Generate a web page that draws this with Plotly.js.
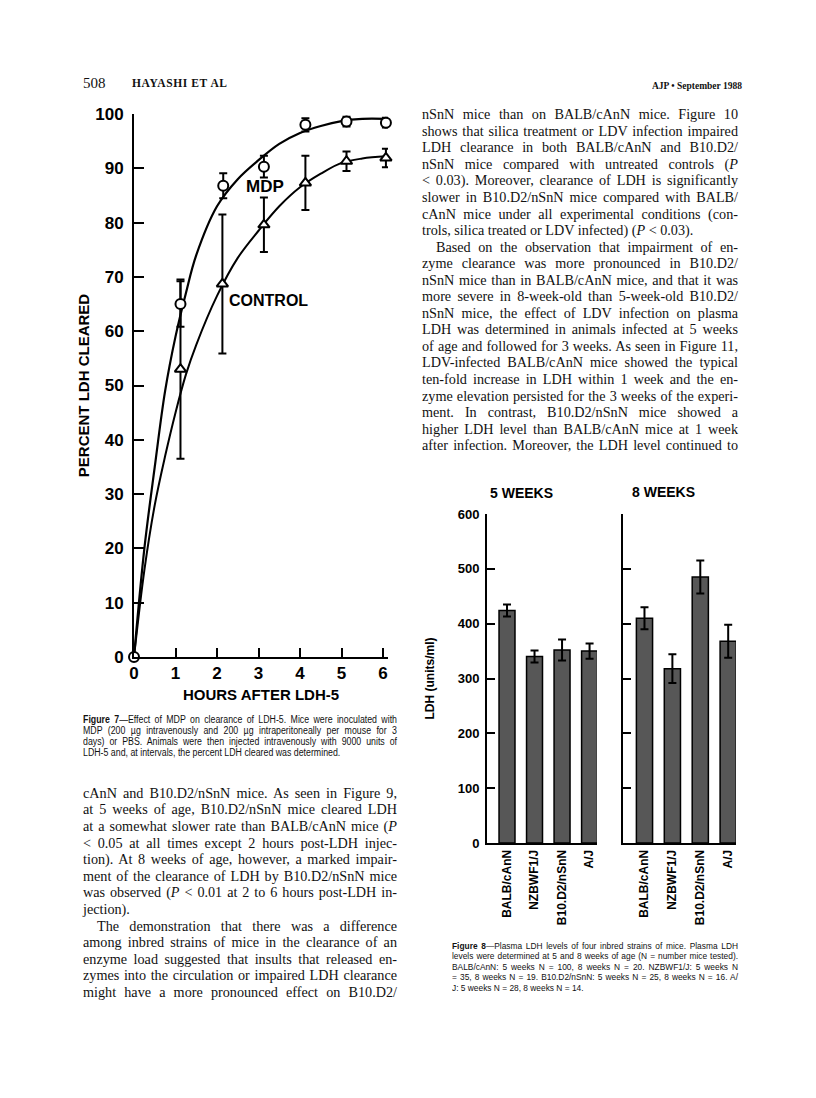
<!DOCTYPE html>
<html>
<head>
<meta charset="utf-8">
<script src="https://cdn.plot.ly/plotly-3.0.1.min.js"></script>
<style>
body{margin:0;background:#fff}
#page{position:relative;width:816px;height:1098px;overflow:hidden;background:#fff}
#chart{position:absolute;left:0;top:0;width:816px;height:1098px}
.ln{position:absolute;white-space:nowrap;color:#111;transform-origin:0 50%}
.ln span{display:inline-block}
</style>
</head>
<body>
<div id="page"><div id="chart"></div></div>
<script>
// Figure 7 - percent LDH cleared (mean, error)
var hoursMdp = [0, 1.12, 2.15, 3.13, 4.13, 5.12, 6.07];
var mdpMean  = [0, 65, 86.8, 90.3, 98, 98.6, 98.4];
var mdpErr   = [0, 4.2, 2.3, 2, 1.2, 0.9, 0.9];
var hoursCtrl = [1.12, 2.13, 3.13, 4.13, 5.12, 6.07];
var ctrlMean  = [53, 68.7, 79.6, 87.3, 91.3, 91.9];
var ctrlErr   = [16.5, 12.8, 5, 5, 1.8, 1.7];
// hand drawn fit curves
var fitHours = [0, 0.25, 0.5, 0.75, 1, 1.25, 1.5, 2, 2.5, 3, 3.5, 4, 4.5, 5, 5.5, 6.07];
var mdpFit   = [0, 20, 35, 49, 59, 67, 74, 83, 88, 91.5, 94.5, 96.5, 97.8, 98.7, 99.1, 99.1];
var ctrlFit  = [0, 16, 28, 37, 45, 52, 57.5, 66.5, 73.5, 78.5, 83, 86.5, 89, 91, 91.8, 92.2];
var hourTicks = [0, 1, 2, 3, 4, 5, 6];
var pctTicks = [0, 10, 20, 30, 40, 50, 60, 70, 80, 90, 100];

// Figure 8 - plasma LDH (units/ml)
var strains = ['BALB/cAnN', 'NZBWF1/J', 'B10.D2/nSnN', 'A/J'];
var ldh5wk = [424, 340, 352, 350];
var err5wk = [11, 11, 19, 14];
var ldh8wk = [410, 318, 485, 368];
var err8wk = [20, 26, 30, 30];
var ldhTicks = [0, 100, 200, 300, 400, 500, 600];

var W = 816, H = 1098;
function px(x){ return x / W; }
function py(y){ return 1 - y / H; }

var sans = 'Liberation Sans, Arial, sans-serif';
var bold = function(s){ return {family: sans, size: s, color: '#000', weight: 700}; };

var traces = [
  {x: fitHours, y: mdpFit, type: 'scatter', mode: 'lines', line: {color: '#000', width: 2.2, shape: 'spline'}, xaxis: 'x', yaxis: 'y', hoverinfo: 'none', cliponaxis: false},
  {x: fitHours, y: ctrlFit, type: 'scatter', mode: 'lines', line: {color: '#000', width: 2, shape: 'spline'}, xaxis: 'x', yaxis: 'y', hoverinfo: 'none', cliponaxis: false},
  {x: hoursCtrl, y: ctrlMean, type: 'scatter', mode: 'markers', name: 'CONTROL',
   marker: {symbol: 'triangle-up', size: 10, color: '#fff', line: {color: '#000', width: 2}},
   error_y: {type: 'data', array: ctrlErr, color: '#000', thickness: 2, width: 4},
   xaxis: 'x', yaxis: 'y', cliponaxis: false},
  {x: hoursMdp, y: mdpMean, type: 'scatter', mode: 'markers', name: 'MDP',
   marker: {symbol: 'circle', size: 10, color: '#fff', line: {color: '#000', width: 2}},
   error_y: {type: 'data', array: mdpErr, color: '#000', thickness: 2, width: 4},
   xaxis: 'x', yaxis: 'y', cliponaxis: false},
  {x: strains, y: ldh5wk, type: 'bar', width: 0.58, name: '5 WEEKS',
   marker: {color: '#575757', line: {color: '#000', width: 1.5}},
   error_y: {type: 'data', array: err5wk, color: '#000', thickness: 2, width: 4},
   xaxis: 'x2', yaxis: 'y2', cliponaxis: false},
  {x: strains, y: ldh8wk, type: 'bar', width: 0.58, name: '8 WEEKS',
   marker: {color: '#575757', line: {color: '#000', width: 1.5}},
   error_y: {type: 'data', array: err8wk, color: '#000', thickness: 2, width: 4},
   xaxis: 'x3', yaxis: 'y3', cliponaxis: false}
];

var layout = {
  width: W, height: H,
  margin: {l: 0, r: 0, t: 0, b: 0},
  paper_bgcolor: 'rgba(0,0,0,0)', plot_bgcolor: 'rgba(0,0,0,0)',
  showlegend: false,
  xaxis: {domain: [px(134), px(388)], range: [0, 6.12], anchor: 'y',
    tickvals: hourTicks, ticks: 'inside', ticklen: 9, tickwidth: 2, tickcolor: '#000',
    showline: true, linewidth: 2, linecolor: '#000', showgrid: false, zeroline: false,
    tickfont: bold(17),
    title: {text: 'HOURS AFTER LDH-5', font: bold(15), standoff: 7}},
  yaxis: {domain: [py(657), py(114)], range: [0, 100], anchor: 'x',
    tickvals: pctTicks, ticks: 'inside', ticklen: 10, tickwidth: 2, tickcolor: '#000',
    showline: true, linewidth: 2, linecolor: '#000', showgrid: false, zeroline: false,
    tickfont: bold(17), ticklabelstandoff: 5,
    title: {text: 'PERCENT LDH CLEARED', font: bold(15), standoff: 2}},
  xaxis2: {domain: [px(487), px(597)], range: [-0.727, 3.27], anchor: 'y2', type: 'category',
    ticks: '', tickangle: -90, tickfont: bold(12),
    showline: true, linewidth: 2, linecolor: '#000', showgrid: false, zeroline: false},
  yaxis2: {domain: [py(843), py(514)], range: [0, 600], anchor: 'x2',
    tickvals: ldhTicks, ticks: 'inside', ticklen: 8, tickwidth: 2, tickcolor: '#000',
    showline: true, linewidth: 2, linecolor: '#000', showgrid: false, zeroline: false,
    tickfont: bold(13), ticklabelstandoff: 3,
    title: {text: 'LDH (units/ml)', font: bold(12), standoff: 20}},
  xaxis3: {domain: [px(623), px(736)], range: [-0.77, 3.28], anchor: 'y3', type: 'category',
    ticks: '', tickangle: -90, tickfont: bold(12),
    showline: true, linewidth: 2, linecolor: '#000', showgrid: false, zeroline: false},
  yaxis3: {domain: [py(843), py(514)], range: [0, 600], anchor: 'x3',
    tickvals: ldhTicks, ticks: 'inside', ticklen: 8, tickwidth: 2, tickcolor: '#000',
    showticklabels: false,
    showline: true, linewidth: 2, linecolor: '#000', showgrid: false, zeroline: false},
  annotations: [
    {text: 'MDP', x: 3.16, y: 86.7, xref: 'x', yref: 'y', showarrow: false, font: bold(17)},
    {text: 'CONTROL', x: 3.23, y: 65.7, xref: 'x', yref: 'y', showarrow: false, font: bold(16)},
    {text: '5 WEEKS', x: px(555), y: py(493), xref: 'paper', yref: 'paper', showarrow: false, font: bold(14)},
    {text: '8 WEEKS', x: px(697), y: py(492), xref: 'paper', yref: 'paper', showarrow: false, font: bold(14)}
  ]
};

Plotly.newPlot('chart', traces, layout, {displayModeBar: false, staticPlot: true});

// ---- page text around the figures ----
var page = document.getElementById('page');
function addLines(lines, left, width, y0, step, font, size, hscale){
  hscale = hscale || 1;
  lines.forEach(function(l, i){
    var ind = l.ind || 0;
    var Wd = (width - ind) / hscale;
    var d = document.createElement('div');
    d.className = 'ln';
    d.style.left = (left + ind) + 'px';
    d.style.top = (y0 + i * step - step / 2) + 'px';
    d.style.width = Wd + 'px';
    d.style.font = (l.b ? 'bold ' : '') + size + 'px ' + font;
    d.style.lineHeight = step + 'px';
    if (l.ls) d.style.letterSpacing = l.ls + 'px';
    if (hscale != 1) d.style.transform = 'scaleX(' + hscale + ')';
    var s = document.createElement('span');
    s.innerHTML = l.t;
    d.appendChild(s);
    page.appendChild(d);
    var w = s.getBoundingClientRect().width / hscale;
    var gaps = (s.textContent.match(/ /g) || []).length;
    if (!l.end && gaps) {
      s.style.wordSpacing = Math.max(-1.5, (Wd - w) / gaps) + 'px';
    }
    var w2 = s.getBoundingClientRect().width / hscale;
    if (w2 > Wd + 0.5) {
      d.style.transform = 'scaleX(' + (hscale * Wd / w2) + ')';
    }
  });
}

var serif = 'Liberation Serif, Times New Roman, serif';

addLines([{t: '508', end: true}], 83, 30, 83, 16, serif, 15);
addLines([{t: 'HAYASHI ET AL', end: true, b: true, ls: 0.6}], 132, 100, 83, 16, serif, 11.5);
addLines([{t: 'AJP &bull; September 1988', end: true, b: true}], 652, 90, 85, 16, serif, 11);

var leftBody = [
  {t: 'cAnN and B10.D2/nSnN mice. As seen in Figure 9,'},
  {t: 'at 5 weeks of age, B10.D2/nSnN mice cleared LDH'},
  {t: 'at a somewhat slower rate than BALB/cAnN mice (<i>P</i>'},
  {t: '&lt; 0.05 at all times except 2 hours post-LDH injec-'},
  {t: 'tion). At 8 weeks of age, however, a marked impair-'},
  {t: 'ment of the clearance of LDH by B10.D2/nSnN mice'},
  {t: 'was observed (<i>P</i> &lt; 0.01 at 2 to 6 hours post-LDH in-'},
  {t: 'jection).', end: true},
  {t: 'The demonstration that there was a difference', ind: 14},
  {t: 'among inbred strains of mice in the clearance of an'},
  {t: 'enzyme load suggested that insults that released en-'},
  {t: 'zymes into the circulation or impaired LDH clearance'},
  {t: 'might have a more pronounced effect on B10.D2/'}
];
addLines(leftBody, 83, 314, 793, 16.6, serif, 14.2);

var rightBody = [
  {t: 'nSnN mice than on BALB/cAnN mice. Figure 10'},
  {t: 'shows that silica treatment or LDV infection impaired'},
  {t: 'LDH clearance in both BALB/cAnN and B10.D2/'},
  {t: 'nSnN mice compared with untreated controls (<i>P</i>'},
  {t: '&lt; 0.03). Moreover, clearance of LDH is significantly'},
  {t: 'slower in B10.D2/nSnN mice compared with BALB/'},
  {t: 'cAnN mice under all experimental conditions (con-'},
  {t: 'trols, silica treated or LDV infected) (<i>P</i> &lt; 0.03).', end: true},
  {t: 'Based on the observation that impairment of en-', ind: 14},
  {t: 'zyme clearance was more pronounced in B10.D2/'},
  {t: 'nSnN mice than in BALB/cAnN mice, and that it was'},
  {t: 'more severe in 8-week-old than 5-week-old B10.D2/'},
  {t: 'nSnN mice, the effect of LDV infection on plasma'},
  {t: 'LDH was determined in animals infected at 5 weeks'},
  {t: 'of age and followed for 3 weeks. As seen in Figure 11,'},
  {t: 'LDV-infected BALB/cAnN mice showed the typical'},
  {t: 'ten-fold increase in LDH within 1 week and the en-'},
  {t: 'zyme elevation persisted for the 3 weeks of the experi-'},
  {t: 'ment. In contrast, B10.D2/nSnN mice showed a'},
  {t: 'higher LDH level than BALB/cAnN mice at 1 week'},
  {t: 'after infection. Moreover, the LDH level continued to'}
];
addLines(rightBody, 422, 316, 114.5, 16.55, serif, 14.2);

var cap7 = [
  {t: '<b>Figure 7</b>&mdash;Effect of MDP on clearance of LDH-5. Mice were inoculated with'},
  {t: 'MDP (200 &micro;g intravenously and 200 &micro;g intraperitoneally per mouse for 3'},
  {t: 'days) or PBS. Animals were then injected intravenously with 9000 units of'},
  {t: 'LDH-5 and, at intervals, the percent LDH cleared was determined.', end: true}
];
addLines(cap7, 83, 314, 719, 11, sans, 10, 0.88);

var cap8 = [
  {t: '<b>Figure 8</b>&mdash;Plasma LDH levels of four inbred strains of mice. Plasma LDH'},
  {t: 'levels were determined at 5 and 8 weeks of age (N = number mice tested).'},
  {t: 'BALB/cAnN: 5 weeks N = 100, 8 weeks N = 20. NZBWF1/J: 5 weeks N'},
  {t: '= 35, 8 weeks N = 19. B10.D2/nSnN: 5 weeks N = 25, 8 weeks N = 16. A/'},
  {t: 'J: 5 weeks N = 28, 8 weeks N = 14.', end: true}
];
addLines(cap8, 452, 286, 946, 10.5, sans, 9.5, 0.88);
</script>
</body>
</html>
